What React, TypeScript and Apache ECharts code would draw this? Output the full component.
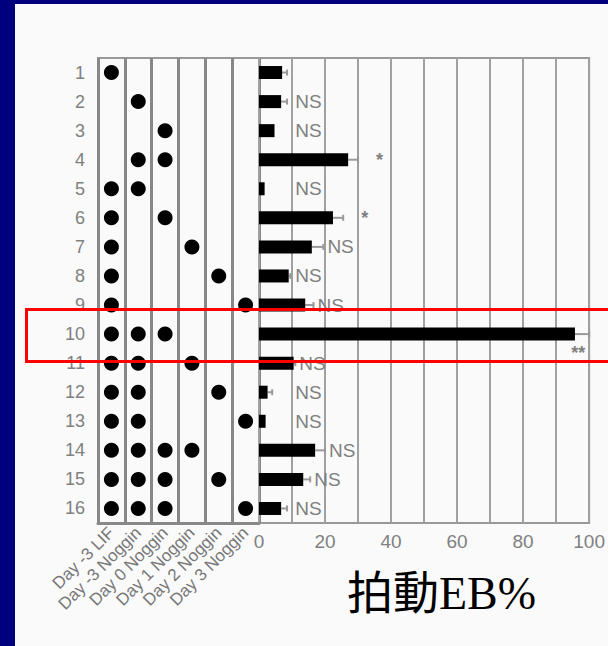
import React, { useEffect, useRef } from "react";
import * as echarts from "echarts";

const rows = ["1", "2", "3", "4", "5", "6", "7", "8", "9", "10", "11", "12", "13", "14", "15", "16"];
const treatments = ["Day -3 LIF", "Day -3 Noggin", "Day 0 Noggin", "Day 1 Noggin", "Day 2 Noggin", "Day 3 Noggin"];
const rowTreatments = [
  [0], [1], [2], [1, 2], [0, 1], [0, 2], [0, 3], [0, 4], [0, 5],
  [0, 1, 2], [0, 1, 3], [0, 1, 4], [0, 1, 5], [0, 1, 2, 3], [0, 1, 2, 4], [0, 1, 2, 5],
];
const ebMean = [7, 6.7, 4.7, 27, 1.7, 22.4, 16, 9, 14, 95.7, 10.5, 2.6, 2, 17, 13.4, 6.7];
const ebUpper = [8.5, 8.5, 4.7, 30, 1.7, 25.5, 19.5, 9.5, 16.5, 100, 11, 4, 2, 20, 15.5, 8.5];
const significance = ["", "NS", "NS", "*", "NS", "*", "NS", "NS", "NS", "**", "NS", "NS", "NS", "NS", "NS", "NS"];
const xTicks = [0, 20, 40, 60, 80, 100];
const axisTitle = "拍動EB%";

export default function App() {
  const ref = useRef<HTMLDivElement>(null);
  useEffect(() => {
    document.body.style.margin = "0";
    const chart = echarts.init(ref.current!, null, { renderer: "svg" });
    const dots: number[][] = [];
    rowTreatments.forEach((cols, r) => cols.forEach((c) => dots.push([c, r])));
    const gray = "#808080";
    const font = "'Liberation Sans', Arial, sans-serif";
    chart.setOption({
      animation: false,
      backgroundColor: "#fafafa",
      graphic: [
        { type: "rect", shape: { x: 0, y: 0, width: 15, height: 646 }, style: { fill: "#00007f" }, silent: true },
        { type: "rect", shape: { x: 0, y: 0, width: 608, height: 4 }, style: { fill: "#00007f" }, silent: true },
        {
          type: "text", x: 347, y: 593, z: 50,
          style: { text: axisTitle, fontSize: 46, fill: "#000", fontFamily: "'Liberation Serif', 'Noto Sans CJK JP', serif", verticalAlign: "middle" },
        },
        {
          type: "rect", z: 100, silent: true,
          shape: { x: 26.5, y: 309.5, width: 600, height: 52 },
          style: { fill: "none", stroke: "#ff0000", lineWidth: 3 },
        },
      ],
      grid: [
        { left: 98, top: 58, width: 161, height: 465, show: true, borderColor: "#999", borderWidth: 2, backgroundColor: "transparent" },
        { left: 259, top: 58, width: 344, height: 465, show: true, borderColor: "#999", borderWidth: 2, backgroundColor: "transparent" },
      ],
      xAxis: [
        {
          type: "category", gridIndex: 0, data: treatments, boundaryGap: true,
          axisLine: { lineStyle: { color: "#888", width: 3 } },
          axisTick: { show: false },
          splitLine: { show: true, interval: 0, lineStyle: { color: "#888", width: 3 } },
          axisLabel: { interval: 0, rotate: 45, fontSize: 17, color: "#777", margin: 7, fontFamily: font },
        },
        {
          type: "value", gridIndex: 1, min: 0, max: 100, interval: 10,
          axisLine: { lineStyle: { color: "#888", width: 3 } },
          axisTick: { show: false },
          splitLine: { show: true, lineStyle: { color: "#a0a0a0", width: 2 } },
          axisLabel: {
            fontSize: 19, color: gray, margin: 9, fontFamily: font,
            formatter: (v: number) => (xTicks.indexOf(v) >= 0 ? String(v) : ""),
          },
        },
      ],
      yAxis: [
        {
          type: "category", gridIndex: 0, data: rows, inverse: true,
          axisLine: { show: false }, axisTick: { show: false }, splitLine: { show: false },
          axisLabel: { fontSize: 18, color: gray, margin: 13, fontFamily: font },
        },
        {
          type: "category", gridIndex: 1, data: rows, inverse: true,
          axisLine: { show: false }, axisTick: { show: false }, splitLine: { show: false },
          axisLabel: { show: false },
        },
      ],
      series: [
        {
          type: "scatter", xAxisIndex: 0, yAxisIndex: 0, data: dots,
          symbolSize: 15, itemStyle: { color: "#000", opacity: 1 }, z: 5,
        },
        {
          type: "bar", xAxisIndex: 1, yAxisIndex: 1, data: ebMean,
          barWidth: 13, itemStyle: { color: "#000" }, z: 5,
        },
        {
          type: "custom", xAxisIndex: 1, yAxisIndex: 1, z: 4,
          data: ebMean.map((m, i) => [m, ebUpper[i], i]),
          encode: { x: [0, 1], y: 2 },
          renderItem: (params: any, api: any) => {
            const r = api.value(2);
            const a = api.coord([api.value(0), r]);
            const b = api.coord([api.value(1), r]);
            if (b[0] - a[0] < 1) return { type: "group", children: [] };
            return {
              type: "group",
              children: [
                { type: "line", shape: { x1: a[0], y1: a[1], x2: b[0], y2: b[1] }, style: { stroke: "#999", lineWidth: 2 } },
                { type: "line", shape: { x1: b[0], y1: b[1] - 3, x2: b[0], y2: b[1] + 3 }, style: { stroke: "#999", lineWidth: 2 } },
              ],
            };
          },
        },
        {
          type: "custom", xAxisIndex: 1, yAxisIndex: 1, z: 6,
          data: ebUpper.map((u, i) => [u, i]),
          encode: { x: 0, y: 1 },
          renderItem: (params: any, api: any) => {
            const i = params.dataIndex;
            const s = significance[i];
            if (!s) return { type: "group", children: [] };
            const end = api.coord([api.value(0), i]);
            const base = api.coord([11, i]);
            let x: number, y: number, align = "left";
            if (s === "**") {
              x = end[0] - 11; y = end[1] + 19; align = "center";
            } else if (s === "*") {
              x = end[0] + 18; y = end[1];
            } else {
              x = Math.max(end[0] + 4, base[0]); y = end[1];
            }
            return {
              type: "text", x, y,
              style: {
                text: s, fill: gray, fontFamily: font,
                fontSize: s === "NS" ? 19 : 18,
                fontWeight: s === "NS" ? "normal" : "bold",
                align, verticalAlign: "middle",
              },
            };
          },
        },
      ],
    });
    return () => chart.dispose();
  }, []);
  return <div ref={ref} style={{ width: 608, height: 646 }} />;
}
